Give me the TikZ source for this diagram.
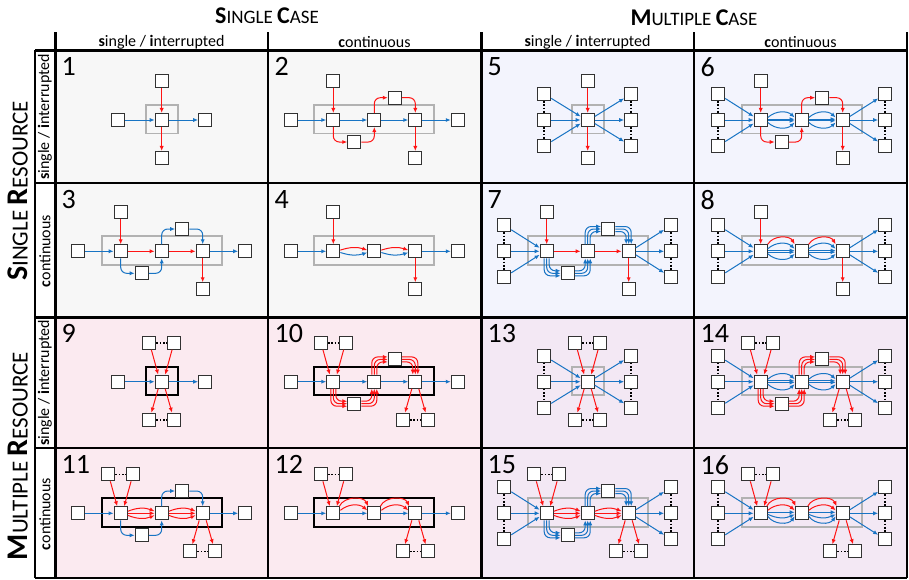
\documentclass[tikz,border=0pt]{standalone}
\usepackage{fontspec}
\setmainfont{Carlito}
\usetikzlibrary{arrows.meta,calc}

\definecolor{flowblue}{RGB}{24,116,196}
\definecolor{flowred}{RGB}{255,20,20}
\definecolor{boxedge}{RGB}{50,50,50}
\definecolor{frameg}{RGB}{178,178,178}
\definecolor{bgsingle}{RGB}{247,247,247}
\definecolor{bgmcase}{RGB}{243,244,253}
\definecolor{bgmres}{RGB}{251,234,240}
\definecolor{bgboth}{RGB}{243,232,244}

\newcommand\hdrsize[1]{\fontsize{#1}{#1}\selectfont}
% small-caps style word: bold initial at size #3, rest at size #4
\newcommand\capsword[4]{{\bfseries\hdrsize{#3}#1}{\hdrsize{#4}#2}}
% two such words with a word space of the smaller size
\newcommand\capspair[6]{\capsword{#1}{#2}{#5}{#6}{\hdrsize{#6}\ }\capsword{#3}{#4}{#5}{#6}}
\newcommand\lowlabel[2]{{\bfseries #1}#2}

\tikzset{
  cbox/.style={draw=boxedge, fill=white, line width=1.1pt, minimum size=13pt, inner sep=0pt},
  flowtip/.style={-{Latex[length=5pt,width=4.2pt]}},
  ba/.style={draw=flowblue, line width=1pt, flowtip},
  ra/.style={draw=flowred, line width=1pt, flowtip},
  corner/.style={rounded corners=6pt},
  dotline/.style={draw=black, line width=1.6pt, dash pattern=on 1.6pt off 1.7pt},
  grayframe/.style={draw=frameg, line width=1.8pt},
  blackframe/.style={draw=black, line width=2pt},
  cellno/.style={anchor=north west, inner sep=0pt, font=\hdrsize{28}},
  colhead/.style={font=\hdrsize{16}},
  thinrule/.style={line width=1.8pt},
  thickrule/.style={line width=3pt}
}

% building blocks of one cell; the hub/middle box B sits at (0,0)
\newcommand\chainboxes{%
  \node[cbox] (A) at (-41,0) {};
  \node[cbox] (B) at (0,0) {};
  \node[cbox] (C) at (41,0) {};}
\newcommand\chainframe[1]{\draw[#1] (-60,-15) rectangle (60,13.5);}
\newcommand\hubframe[1]{\draw[#1] (-16,-15) rectangle (16,13.5);}
\newcommand\sidebox[1]{%
  \node[cbox] (L) at (-#1,0) {};
  \node[cbox] (R) at (#1,0) {};}
\newcommand\sidecols[1]{%
  \foreach \k/\yy in {1/-26,2/0,3/26}{%
    \node[cbox] (L\k) at (-#1,\yy) {};
    \node[cbox] (R\k) at (#1,\yy) {};}
  \draw[dotline] (L1) -- (L2);
  \draw[dotline] (L2) -- (L3);
  \draw[dotline] (R1) -- (R2);
  \draw[dotline] (R2) -- (R3);}
\newcommand\colsin[1]{%
  \draw[ba] (L1) -- ($(#1.west)+(0,-3.5)$);
  \draw[ba] (L2) -- (#1.west);
  \draw[ba] (L3) -- ($(#1.west)+(0,3.5)$);}
\newcommand\colsout[1]{%
  \draw[ba] ($(#1.east)+(0,-3.5)$) -- (R1);
  \draw[ba] (#1.east) -- (R2);
  \draw[ba] ($(#1.east)+(0,3.5)$) -- (R3);}
\newcommand\topone[2]{%
  \node[cbox] (T) at (#1,-39) {};
  \draw[ra] (T) -- (#2);}
\newcommand\botone[2]{%
  \node[cbox] (D) at (#1,38) {};
  \draw[ra] (#2) -- (D);}
\newcommand\toptwo[2]{%
  \node[cbox] (T1) at ({#1-12.3},-39) {};
  \node[cbox] (T2) at ({#1+12.3},-39) {};
  \draw[dotline] (T1) -- (T2);
  \draw[ra] (T1) -- ($(#2.north)+(-3.5,0)$);
  \draw[ra] (T2) -- ($(#2.north)+(3.5,0)$);}
\newcommand\bottwo[2]{%
  \node[cbox] (D1) at ({#1-12.3},38) {};
  \node[cbox] (D2) at ({#1+12.3},38) {};
  \draw[dotline] (D1) -- (D2);
  \draw[ra] ($(#2.south)+(-3.5,0)$) -- (D1);
  \draw[ra] ($(#2.south)+(3.5,0)$) -- (D2);}
\newcommand\detourboxes{%
  \node[cbox] (U) at (20.5,-22.3) {};
  \node[cbox] (W) at (-20,22) {};}
\newcommand\detour[1]{%
  \draw[#1,corner] (A.south) |- (W.west);
  \draw[#1,corner] (W.east) -| (B.south);
  \draw[#1,corner] (B.north) |- (U.west);
  \draw[#1,corner] (U.east) -| (C.north);}
\newcommand\detourbundle[1]{%
  \foreach \o in {-2.5,0,2.5}{%
    \draw[#1,corner] ($(A.south)+(\o,0)$) |- ($(W.west)+(0,{-(\o)})$);
    \draw[#1,corner] ($(W.east)+(0,\o)$) -| ($(B.south)+(\o,0)$);
    \draw[#1,corner] ($(B.north)+(\o,0)$) |- ($(U.west)+(0,\o)$);
    \draw[#1,corner] ($(U.east)+(0,\o)$) -| ($(C.north)+({-(\o)},0)$);}}
\newcommand\twinarc[2]{%
  \draw[ra] ($(#1.east)+(0,-1.2)$) to[bend left=18] ($(#2.west)+(0,-1.2)$);
  \draw[ba] ($(#1.east)+(0,1.2)$) to[bend right=18] ($(#2.west)+(0,1.2)$);}
\newcommand\fanbundle[3]{%
  \draw[#1] ($(#2.east)+(0,-2.5)$) to[bend left=42] ($(#3.west)+(0,-2.5)$);
  \draw[#1] ($(#2.east)+(0,-0.8)$) -- ($(#3.west)+(0,-0.8)$);
  \draw[#1] ($(#2.east)+(0,0.8)$) -- ($(#3.west)+(0,0.8)$);
  \draw[#1] ($(#2.east)+(0,2.5)$) to[bend right=42] ($(#3.west)+(0,2.5)$);}
\newcommand\redtriple[2]{%
  \draw[ra] ($(#1.east)+(0,-2)$) to[bend left=22] ($(#2.west)+(0,-2)$);
  \draw[ra] (#1) -- (#2);
  \draw[ra] ($(#1.east)+(0,2)$) to[bend right=22] ($(#2.west)+(0,2)$);}
\newcommand\highred[2]{%
  \draw[ra] (#1.north east) to[bend left=60] (#2.north west);}
\newcommand\redpairarc[2]{%
  \draw[ra] ($(#1.east)+(0,-3)$) to[bend left=40] ($(#2.west)+(0,-3)$);
  \draw[ra] ($(#1.north east)+(-1,0)$) to[bend left=65] ($(#2.north west)+(1,0)$);}
\newcommand\bluelow[2]{%
  \draw[ba] ($(#1.east)+(0,-1)$) -- ($(#2.west)+(0,-1)$);
  \draw[ba] ($(#1.east)+(0,1)$) to[bend right=25] ($(#2.west)+(0,1)$);
  \draw[ba] ($(#1.east)+(0,3)$) to[bend right=55] ($(#2.west)+(0,3)$);}

\begin{document}
\begin{tikzpicture}[x=1pt,y=-1pt]
\useasboundingbox (0,0) rectangle (909,579);
\fill[white] (0,0) rectangle (909,579);

% cell backgrounds
\fill[bgsingle] (55,50) rectangle (481,317);
\fill[bgmcase] (481,50) rectangle (907,317);
\fill[bgmres] (55,317) rectangle (481,578);
\fill[bgboth] (481,317) rectangle (907,578);

% headers
\node (hsc) at (267,16) {\capspair{S}{INGLE}{C}{ASE}{24}{19}};
\node (hmc) at (694,18) {\capspair{M}{ULTIPLE}{C}{ASE}{24}{19}};
\node[colhead] (h1) at (161.5,42) {\lowlabel{s}{ingle / }\lowlabel{i}{nterrupted}};
\node[colhead] (h2) at (374.5,42) {\lowlabel{c}{ontinuous}};
\node[colhead] (h3) at (587.5,42) {\lowlabel{s}{ingle / }\lowlabel{i}{nterrupted}};
\node[colhead] (h4) at (800.5,42) {\lowlabel{c}{ontinuous}};
\node[rotate=90] (vsr) at (18,191) {\capspair{S}{INGLE}{R}{ESOURCE}{30}{23}};
\node[rotate=90] (vmr) at (18,456) {\capspair{M}{ULTIPLE}{R}{ESOURCE}{30}{23}};
\node[colhead,rotate=90] (v1) at (45,117) {\lowlabel{s}{ingle / }\lowlabel{i}{nterrupted}};
\node[colhead,rotate=90] (v2) at (45,251) {\lowlabel{c}{ontinuous}};
\node[colhead,rotate=90] (v3) at (45,383) {\lowlabel{s}{ingle / }\lowlabel{i}{nterrupted}};
\node[colhead,rotate=90] (v4) at (45,514) {\lowlabel{c}{ontinuous}};

% cell numbers
\foreach \n/\cx/\cy in {1/55/50,2/268/50,5/481/50,6/694/50,
                        3/55/183,4/268/183,7/481/183,8/694/183,
                        9/55/317,10/268/317,13/481/317,14/694/317,
                        11/55/448,12/268/448,15/481/448,16/694/448}{
  \node[cellno] (n\n) at (\cx+6.5,\cy+7.5) {\n};
}

% ---- cell 1
\begin{scope}[shift={(161.7,120)},name prefix=c1-]
  \hubframe{grayframe}
  \node[cbox] (B) at (0,0) {};
  \sidebox{43.5}
  \topone{0}{B}\botone{0}{B}
  \draw[ba] (L) -- (B);
  \draw[ba] (B) -- (R);
\end{scope}
% ---- cell 2
\begin{scope}[shift={(374.3,120)},name prefix=c2-]
  \chainframe{grayframe}
  \chainboxes\sidebox{83.5}\detourboxes
  \topone{-41}{A}\botone{41}{C}
  \draw[ba] (L) -- (A);
  \draw[ba] (A) -- (B);
  \draw[ba] (B) -- (C);
  \draw[ba] (C) -- (R);
  \detour{ra}
\end{scope}
% ---- cell 3
\begin{scope}[shift={(161.7,251.3)},name prefix=c3-]
  \chainframe{grayframe}
  \chainboxes\sidebox{83.5}\detourboxes
  \topone{-41}{A}\botone{41}{C}
  \draw[ba] (L) -- (A);
  \draw[ra] (A) -- (B);
  \draw[ra] (B) -- (C);
  \draw[ba] (C) -- (R);
  \detour{ba}
\end{scope}
% ---- cell 4
\begin{scope}[shift={(374.3,251.3)},name prefix=c4-]
  \chainframe{grayframe}
  \chainboxes\sidebox{83.5}
  \topone{-41}{A}\botone{41}{C}
  \draw[ba] (L) -- (A);
  \draw[ba] (C) -- (R);
  \twinarc{A}{B}\twinarc{B}{C}
\end{scope}
% ---- cell 5
\begin{scope}[shift={(587.7,120)},name prefix=c5-]
  \hubframe{grayframe}
  \node[cbox] (B) at (0,0) {};
  \sidecols{43.5}
  \topone{0}{B}\botone{0}{B}
  \colsin{B}\colsout{B}
\end{scope}
% ---- cell 6
\begin{scope}[shift={(801.7,120)},name prefix=c6-]
  \chainframe{grayframe}
  \chainboxes\sidecols{83.5}\detourboxes
  \topone{-41}{A}\botone{41}{C}
  \colsin{A}\colsout{C}
  \detour{ra}
  \fanbundle{ba}{A}{B}\fanbundle{ba}{B}{C}
\end{scope}
% ---- cell 7
\begin{scope}[shift={(587.7,251.3)},name prefix=c7-]
  \chainframe{grayframe}
  \chainboxes\sidecols{83.5}\detourboxes
  \topone{-41}{A}\botone{41}{C}
  \colsin{A}\colsout{C}
  \draw[ra] (A) -- (B);
  \draw[ra] (B) -- (C);
  \detourbundle{ba}
\end{scope}
% ---- cell 8
\begin{scope}[shift={(801.7,251.3)},name prefix=c8-]
  \chainframe{grayframe}
  \chainboxes\sidecols{83.5}
  \topone{-41}{A}\botone{41}{C}
  \colsin{A}\colsout{C}
  \fanbundle{ba}{A}{B}\fanbundle{ba}{B}{C}
  \highred{A}{B}\highred{B}{C}
\end{scope}
% ---- cell 9
\begin{scope}[shift={(161.7,381.7)},name prefix=c9-]
  \hubframe{blackframe}
  \node[cbox] (B) at (0,0) {};
  \sidebox{43.5}
  \toptwo{0}{B}\bottwo{0}{B}
  \draw[ba] (L) -- (B);
  \draw[ba] (B) -- (R);
\end{scope}
% ---- cell 10
\begin{scope}[shift={(374.3,381.7)},name prefix=c10-]
  \chainframe{blackframe}
  \chainboxes\sidebox{83.5}\detourboxes
  \toptwo{-41}{A}\bottwo{41}{C}
  \draw[ba] (L) -- (A);
  \draw[ba] (A) -- (B);
  \draw[ba] (B) -- (C);
  \draw[ba] (C) -- (R);
  \detourbundle{ra}
\end{scope}
% ---- cell 11
\begin{scope}[shift={(161.7,513.3)},name prefix=c11-]
  \chainframe{blackframe}
  \chainboxes\sidebox{83.5}\detourboxes
  \toptwo{-41}{A}\bottwo{41}{C}
  \draw[ba] (L) -- (A);
  \draw[ba] (C) -- (R);
  \redtriple{A}{B}\redtriple{B}{C}
  \detour{ba}
\end{scope}
% ---- cell 12
\begin{scope}[shift={(374.3,513.3)},name prefix=c12-]
  \chainframe{blackframe}
  \chainboxes\sidebox{83.5}
  \toptwo{-41}{A}\bottwo{41}{C}
  \draw[ba] (L) -- (A);
  \draw[ba] (A) -- (B);
  \draw[ba] (B) -- (C);
  \draw[ba] (C) -- (R);
  \redpairarc{A}{B}\redpairarc{B}{C}
\end{scope}
% ---- cell 13
\begin{scope}[shift={(587.7,381.7)},name prefix=c13-]
  \hubframe{grayframe}
  \node[cbox] (B) at (0,0) {};
  \sidecols{43.5}
  \toptwo{0}{B}\bottwo{0}{B}
  \colsin{B}\colsout{B}
\end{scope}
% ---- cell 14
\begin{scope}[shift={(801.7,381.7)},name prefix=c14-]
  \chainframe{grayframe}
  \chainboxes\sidecols{83.5}\detourboxes
  \toptwo{-41}{A}\bottwo{41}{C}
  \colsin{A}\colsout{C}
  \fanbundle{ba}{A}{B}\fanbundle{ba}{B}{C}
  \detourbundle{ra}
\end{scope}
% ---- cell 15
\begin{scope}[shift={(587.7,513.3)},name prefix=c15-]
  \chainframe{grayframe}
  \chainboxes\sidecols{83.5}\detourboxes
  \toptwo{-41}{A}\bottwo{41}{C}
  \colsin{A}\colsout{C}
  \redtriple{A}{B}\redtriple{B}{C}
  \detourbundle{ba}
\end{scope}
% ---- cell 16
\begin{scope}[shift={(801.7,513.3)},name prefix=c16-]
  \chainframe{grayframe}
  \chainboxes\sidecols{83.5}
  \toptwo{-41}{A}\bottwo{41}{C}
  \colsin{A}\colsout{C}
  \redpairarc{A}{B}\redpairarc{B}{C}
  \bluelow{A}{B}\bluelow{B}{C}
\end{scope}

% table rules
\draw[thickrule] (35,50) -- (907,50);
\draw[thinrule] (35,183) -- (907,183);
\draw[thickrule] (35,317) -- (907,317);
\draw[thinrule] (35,448) -- (907,448);
\draw[thinrule] (35,578) -- (907,578);
\draw[thinrule] (35,50) -- (35,578);
\draw[thickrule] (55,32) -- (55,578);
\draw[thinrule] (268,32) -- (268,578);
\draw[thickrule] (481,32) -- (481,578);
\draw[thinrule] (694,32) -- (694,578);
\draw[thinrule] (907,32) -- (907,578);
\end{tikzpicture}
\end{document}
